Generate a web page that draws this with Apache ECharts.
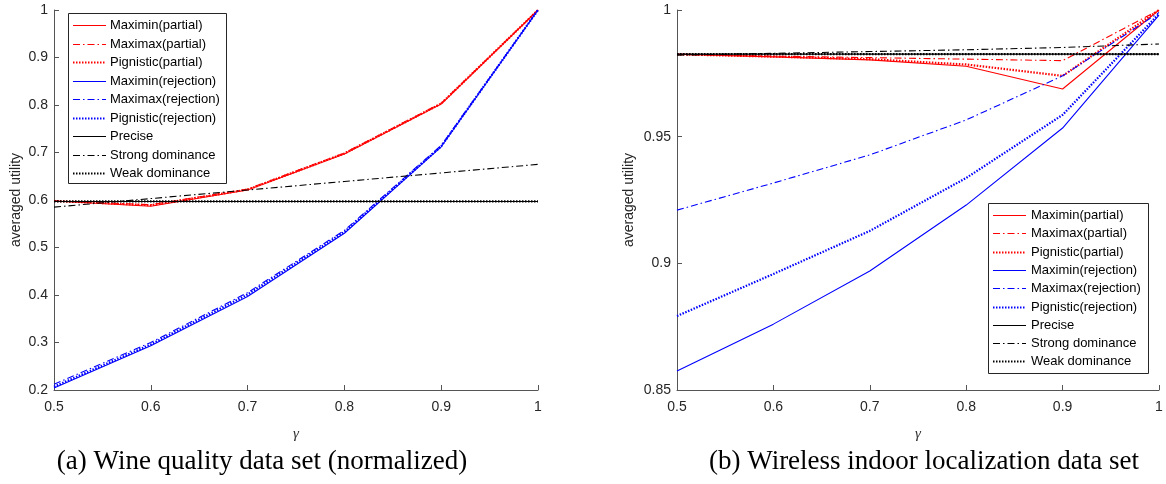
<!DOCTYPE html>
<html><head><meta charset="utf-8">
<script src="https://cdn.jsdelivr.net/npm/echarts@6/dist/echarts.min.js"></script>
<style>html,body{margin:0;padding:0;background:#fff}#c{width:1166px;height:484px}</style>
</head><body><div id="c"></div>
<script>
const gammas = [0.5, 0.6, 0.7, 0.8, 0.9, 1.0];
const seriesNames = ['Maximin(partial)','Maximax(partial)','Pignistic(partial)','Maximin(rejection)','Maximax(rejection)','Pignistic(rejection)','Precise','Strong dominance','Weak dominance'];

// (a) Wine quality (normalized)
const wineMaximinPartial   = [0.598, 0.587, 0.621, 0.697, 0.802, 1.0];
const wineMaximaxPartial   = [0.598, 0.590, 0.623, 0.699, 0.804, 1.0];
const winePignisticPartial = [0.598, 0.589, 0.622, 0.698, 0.803, 1.0];
const wineMaximinReject    = [0.204, 0.293, 0.397, 0.530, 0.712, 1.0];
const wineMaximaxReject    = [0.212, 0.300, 0.405, 0.536, 0.715, 1.0];
const winePignisticReject  = [0.207, 0.296, 0.401, 0.533, 0.713, 1.0];
const winePrecise          = [0.597, 0.597, 0.597, 0.597, 0.597, 0.597];
const wineStrong           = [0.585, 0.603, 0.621, 0.639, 0.657, 0.675];
const wineWeak             = [0.597, 0.597, 0.597, 0.597, 0.597, 0.597];

// (b) Wireless indoor localization
const wifiMaximinPartial   = [0.9826, 0.9815, 0.9803, 0.9778, 0.9688, 1.0];
const wifiMaximaxPartial   = [0.9824, 0.9818, 0.9812, 0.9806, 0.9800, 1.0];
const wifiPignisticPartial = [0.9825, 0.9816, 0.9806, 0.9785, 0.9740, 1.0];
const wifiMaximinReject    = [0.8575, 0.8760, 0.8970, 0.9230, 0.9534, 0.9980];
const wifiMaximaxReject    = [0.9210, 0.9317, 0.9428, 0.9566, 0.9740, 0.9990];
const wifiPignisticReject  = [0.8792, 0.8958, 0.9128, 0.9337, 0.9586, 0.9985];
const wifiPrecise          = [0.9826, 0.9826, 0.9826, 0.9826, 0.9826, 0.9826];
const wifiStrong           = [0.9822, 0.9829, 0.9836, 0.9843, 0.9852, 0.9866];
const wifiWeak             = [0.9826, 0.9826, 0.9826, 0.9826, 0.9826, 0.9826];

const DASHDOT = [7,3,1.5,3];
const DOT = [1.5,1.5];
const styles = [
  {color:'#ff0000', width:1.1, type:'solid'},
  {color:'#ff0000', width:1.1, type:DASHDOT},
  {color:'#ff0000', width:2.2, type:DOT},
  {color:'#0000ff', width:1.1, type:'solid'},
  {color:'#0000ff', width:1.1, type:DASHDOT},
  {color:'#0000ff', width:2.2, type:DOT},
  {color:'#000000', width:1.1, type:'solid'},
  {color:'#000000', width:1.1, type:DASHDOT},
  {color:'#000000', width:2.2, type:DOT}
];
const wineData = [wineMaximinPartial, wineMaximaxPartial, winePignisticPartial, wineMaximinReject, wineMaximaxReject, winePignisticReject, winePrecise, wineStrong, wineWeak];
const wifiData = [wifiMaximinPartial, wifiMaximaxPartial, wifiPignisticPartial, wifiMaximinReject, wifiMaximaxReject, wifiPignisticReject, wifiPrecise, wifiStrong, wifiWeak];

const FONT = 'Liberation Sans, Arial, sans-serif';
const axisCol = '#555555';
function xAx(gi){
  return {type:'value', gridIndex:gi, min:0.5, max:1, interval:0.1,
    name:'γ', nameLocation:'middle', nameGap:37,
    nameTextStyle:{fontFamily:'Liberation Serif, serif', fontStyle:'italic', fontSize:15, color:'#333'},
    axisLine:{lineStyle:{color:axisCol, width:1}},
    axisTick:{inside:true, length:5, lineStyle:{color:axisCol}},
    axisLabel:{fontFamily:FONT, fontSize:14, color:'#262626', margin:10, formatter:v=>String(+v.toFixed(2))},
    splitLine:{show:false}};
}
function yAx(gi, min, max, interval, gap){
  return {type:'value', gridIndex:gi, min:min, max:max, interval:interval,
    name:'averaged utility', nameLocation:'middle', nameGap:gap, nameRotate:90,
    nameTextStyle:{fontFamily:FONT, fontSize:14, color:'#262626'},
    axisLine:{show:true, lineStyle:{color:axisCol, width:1}},
    axisTick:{show:true, inside:true, length:5, lineStyle:{color:axisCol}},
    axisLabel:{fontFamily:FONT, fontSize:14, color:'#262626', margin:6, formatter:v=>String(+v.toFixed(2))},
    splitLine:{show:false}};
}
const series = [];
[wineData, wifiData].forEach((ds, gi) => {
  ds.forEach((vals, i) => {
    series.push({name:seriesNames[i], type:'line', xAxisIndex:gi, yAxisIndex:gi,
      data: gammas.map((g,k)=>[g, vals[k]]), symbol:'none', animation:false,
      z: i>=6 ? 3 : 2,
      lineStyle:{color:styles[i].color, width:styles[i].width, type:styles[i].type},
      itemStyle:{color:styles[i].color}});
  });
});
// Legend boxes drawn as graphic elements (line samples + labels)
function legendGraphic(box, lineX1, lineX2, textX, firstY, step){
  const els = [{type:'rect', shape:{x:box.x+0.5, y:box.y+0.5, width:box.w, height:box.h},
    style:{fill:'#fff', stroke:'#262626', lineWidth:1}, z:100}];
  seriesNames.forEach((n,i)=>{
    const y = Math.round(firstY + i*step) + 0.5;
    els.push({type:'line', shape:{x1:lineX1, y1:y, x2:lineX2, y2:y},
      style:{stroke:styles[i].color, lineWidth:styles[i].width,
        lineDash: styles[i].type === 'solid' ? null : styles[i].type}, z:101});
    els.push({type:'text', x:textX, y:y,
      style:{text:n, fill:'#000', font:'13px ' + FONT, textVerticalAlign:'middle', textAlign:'left'}, z:101});
  });
  return els;
}
const chart = echarts.init(document.getElementById('c'), null, {renderer:'canvas'});
chart.setOption({
  backgroundColor:'#fff',
  animation:false,
  grid:[{left:54, top:10, width:484, height:380}, {left:677, top:10, width:482, height:380}],
  xAxis:[xAx(0), xAx(1)],
  yAxis:[yAx(0,0.2,1,0.1,31), yAx(1,0.85,1,0.05,41)],
  graphic:[].concat(
    legendGraphic({x:68, y:13, w:158, h:170}, 73, 106, 110, 25, 18.5),
    legendGraphic({x:988, y:203, w:160, h:170}, 993, 1026, 1031, 215, 18.3)
  ),
  title:[
    {text:'(a) Wine quality data set (normalized)', left:257, top:443, textAlign:'center',
     textStyle:{fontFamily:'Liberation Serif, serif', fontWeight:'normal', fontSize:27, color:'#000'}},
    {text:'(b) Wireless indoor localization data set', left:919, top:443, textAlign:'center',
     textStyle:{fontFamily:'Liberation Serif, serif', fontWeight:'normal', fontSize:27, color:'#000'}}
  ],
  series:series
});
</script></body></html>
